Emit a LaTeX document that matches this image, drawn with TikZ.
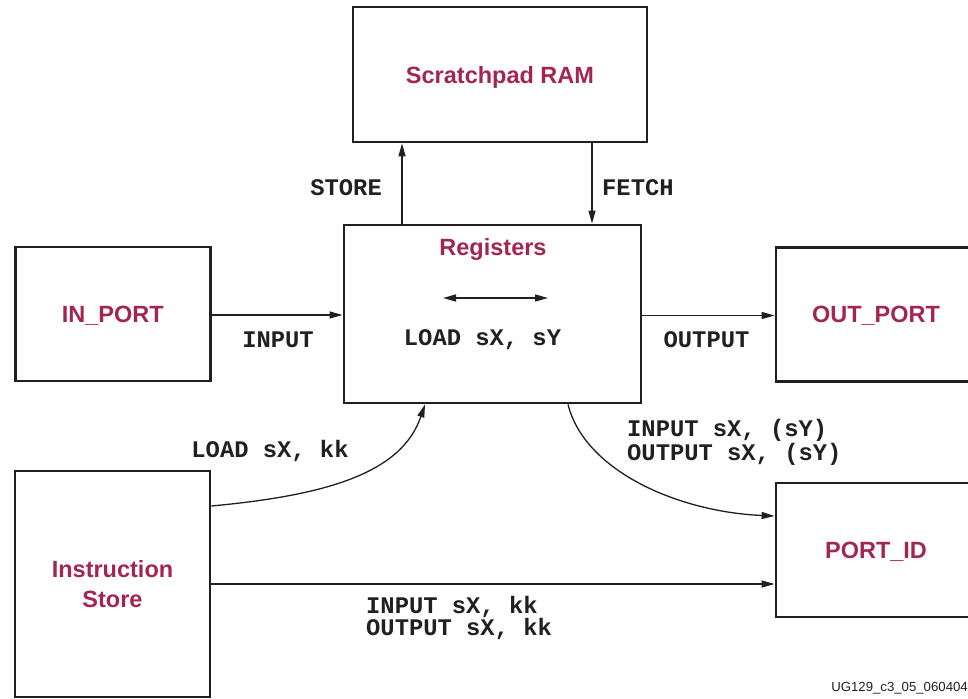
\documentclass[tikz,border=0pt]{standalone}
\usepackage{fontspec}
\newfontfamily\helv{Liberation Sans}
\newfontfamily\cour{Liberation Mono}
\usetikzlibrary{arrows.meta}
\definecolor{blockred}{RGB}{163,37,82}
\definecolor{ink}{RGB}{35,31,32}

\begin{document}
\begin{tikzpicture}[x=1pt,y=-1pt,
    block/.style={draw=ink,line width=2.8pt,inner sep=0pt,text=blockred,
      font=\helv\bfseries\fontsize{23.5}{30}\selectfont,align=center,text depth=0pt},
    title/.style={inner sep=0pt,text=blockred,font=\helv\bfseries\fontsize{23.5}{30}\selectfont},
    sig/.style={inner sep=0pt,text=ink,align=left,
      font=\cour\bfseries\fontsize{23.8}{22}\selectfont},
    wire/.style={draw=ink,line width=1.3pt,-{Triangle[length=13pt,width=7pt]}}]
  \useasboundingbox (0,0) rectangle (968,698);
  % blocks
  \node[block,minimum width=294pt,minimum height=135pt] (ram) at (500,74.5) {Scratchpad RAM};
  \node[block,minimum width=297pt,minimum height=178pt] (reg) at (492.5,314) {};
  \node[block,minimum width=195pt,minimum height=134pt] (inport) at (112.75,314) {IN\_PORT};
  \node[block,minimum width=200pt,minimum height=134pt] (outport) at (876,314.5) {OUT\_PORT};
  \node[block,minimum width=200pt,minimum height=134pt] (portid) at (876,550) {PORT\_ID};
  \node[block,minimum width=195pt,minimum height=226pt] (istore) at (112.5,584) {Instruction\\Store};
  \node[title,anchor=base] (regname) at (493,255) {Registers};
  % connectors
  \draw[wire] (reg.north west -| 402,0) -- (ram.south west -| 402,0);
  \draw[wire] (ram.south west -| 592,0) -- (reg.north west -| 592,0);
  \draw[wire] (inport.east |- 0,315) -- (reg.west |- 0,315);
  \draw[wire] (reg.east |- 0,315.5) -- (outport.west |- 0,315.5);
  \draw[wire] (istore.east |- 0,584) -- (portid.west |- 0,584);
  \draw[wire] (istore.east |- 0,506) .. controls (330,495) and (402,472) .. (reg.south west -| 425,0);
  \draw[wire] (reg.south west -| 568,0) .. controls (585,472) and (680,512) .. (portid.west |- 0,516);
  \coordinate (swapl) at (443,298);
  \coordinate (swapr) at (548,298);
  \draw[draw=ink,line width=1.3pt,{Triangle[length=13pt,width=7pt]}-{Triangle[length=13pt,width=7pt]}] (swapl) -- (swapr);
  % labels
  \node[sig,anchor=base east] (lstore) at (382,195) {STORE};
  \node[sig,anchor=base west] (lfetch) at (602,195) {FETCH};
  \node[sig,anchor=base] (linput) at (278,347) {INPUT};
  \node[sig,anchor=base] (loutput) at (706.5,347) {OUTPUT};
  \node[sig,anchor=base] (lmove) at (482.5,345) {LOAD sX, sY};
  \node[sig,anchor=base] (lconst) at (270,457) {LOAD sX, kk};
  \node[sig,anchor=base west] (lindir) at (627,460) {INPUT sX, (sY)\\OUTPUT sX, (sY)};
  \node[sig,anchor=base west] (ldir) at (366,635) {INPUT sX, kk\\OUTPUT sX, kk};
  \node[inner sep=0pt,anchor=base east,text=ink,font=\helv\fontsize{13.2}{15}\selectfont] (figid) at (968,691) {UG129\_c3\_05\_060404};
\end{tikzpicture}
\end{document}
